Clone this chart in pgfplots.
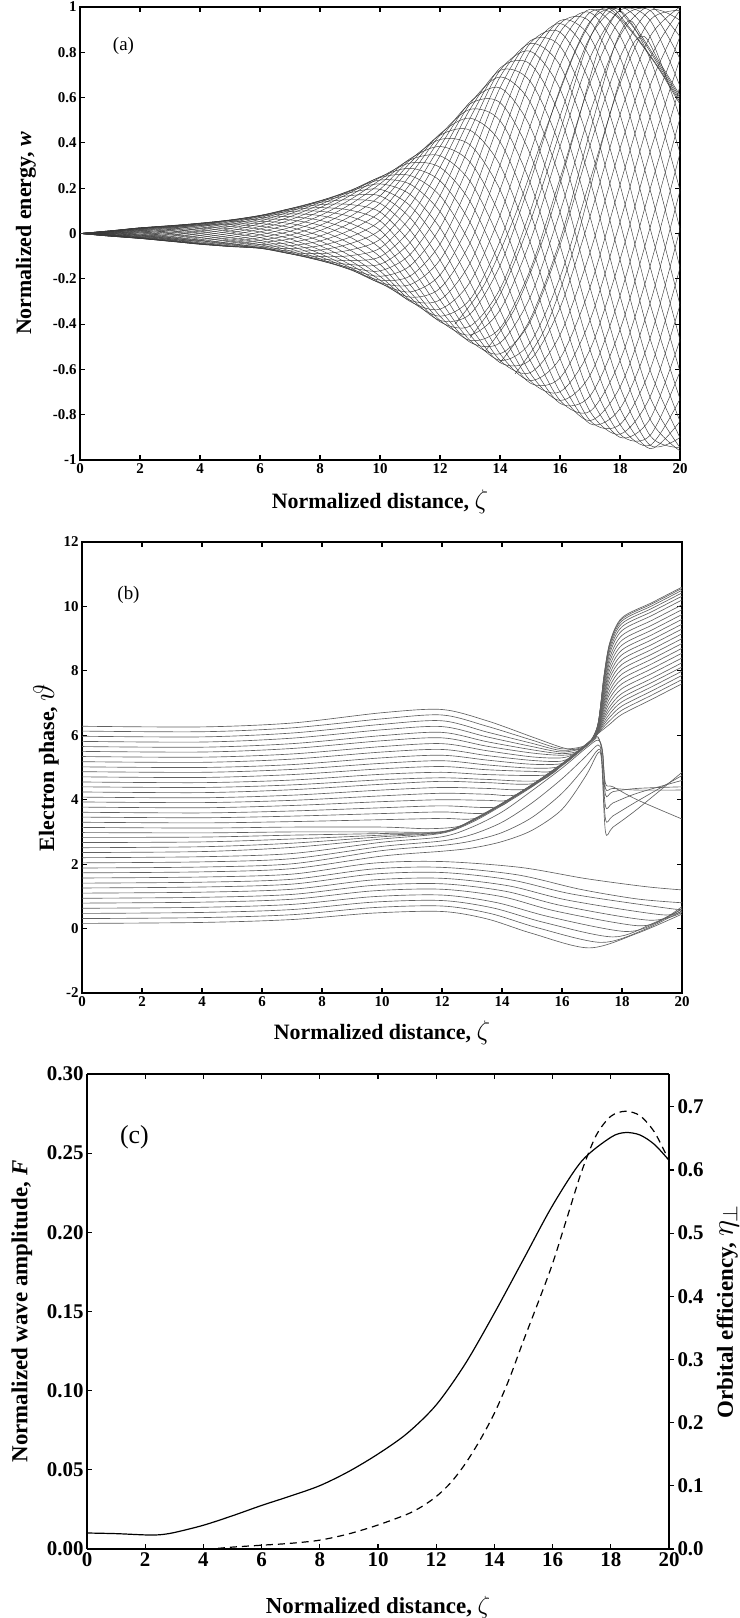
\documentclass[border=0pt]{standalone}
\usepackage{fontspec}
\setmainfont{Liberation Serif}
\usepackage{graphicx}
\usepackage{pgfplots}
\usepackage{pgfplotstable}
\pgfplotsset{compat=1.18}
\newcommand{\tfa}{\fontsize{15}{16}\selectfont\bfseries}
\newcommand{\lfa}{\fontsize{22}{24}\selectfont\bfseries}
\newcommand{\tfc}{\fontsize{21}{22}\selectfont\bfseries}
\newcommand{\lfc}{\fontsize{23}{25}\selectfont\bfseries}
\newcommand{\bigzeta}{\scalebox{1.3}{$\zeta$}}

\pgfplotstableread{
z c0 c1 c2 c3 c4 c5 c6 c7 c8 c9 c10 c11 c12 c13 c14 c15 c16 c17 c18 c19 c20 c21 c22 c23 c24 c25 c26 c27 c28 c29 c30 c31 c32 c33 c34 c35
0 0 0 0 0 0 0 0 0 0 0 0 0 0 0 0 0 0 0 0 0 0 0 0 0 0 0 0 0 0 0 0 0 0 0 0 0
1 0.004 0.006 0.008 0.009 0.010 0.011 0.012 0.012 0.012 0.011 0.010 0.009 0.008 0.006 0.004 0.002 0 -0.002 -0.004 -0.006 -0.008 -0.009 -0.010 -0.011 -0.012 -0.012 -0.012 -0.011 -0.010 -0.009 -0.008 -0.006 -0.004 -0.002 0 0.002
2 0.017 0.020 0.022 0.024 0.025 0.025 0.025 0.024 0.022 0.020 0.017 0.013 0.010 0.006 0.002 -0.003 -0.007 -0.010 -0.014 -0.017 -0.019 -0.021 -0.022 -0.022 -0.022 -0.021 -0.019 -0.017 -0.014 -0.010 -0.007 -0.003 0.002 0.006 0.010 0.013
3 0.030 0.033 0.034 0.035 0.034 0.033 0.030 0.027 0.023 0.018 0.012 0.006 0 -0.006 -0.012 -0.018 -0.023 -0.027 -0.030 -0.033 -0.034 -0.035 -0.034 -0.033 -0.030 -0.027 -0.023 -0.018 -0.012 -0.006 0 0.006 0.012 0.018 0.023 0.027
4 0.045 0.046 0.045 0.043 0.040 0.035 0.029 0.023 0.015 0.007 -0.001 -0.009 -0.017 -0.025 -0.031 -0.037 -0.042 -0.045 -0.047 -0.048 -0.047 -0.045 -0.042 -0.037 -0.031 -0.025 -0.017 -0.009 -0.001 0.007 0.015 0.023 0.029 0.035 0.040 0.043
5 0.059 0.057 0.052 0.046 0.039 0.031 0.021 0.011 0.001 -0.009 -0.019 -0.029 -0.037 -0.044 -0.050 -0.055 -0.057 -0.058 -0.057 -0.055 -0.050 -0.044 -0.037 -0.029 -0.019 -0.009 0.001 0.011 0.021 0.031 0.039 0.046 0.052 0.057 0.059 0.060
6 0.070 0.063 0.054 0.044 0.032 0.020 0.007 -0.006 -0.018 -0.030 -0.040 -0.049 -0.056 -0.062 -0.065 -0.066 -0.065 -0.062 -0.056 -0.049 -0.040 -0.030 -0.018 -0.006 0.007 0.020 0.032 0.044 0.054 0.063 0.070 0.076 0.079 0.080 0.079 0.076
7 0.074 0.060 0.044 0.027 0.010 -0.007 -0.024 -0.040 -0.054 -0.067 -0.077 -0.084 -0.089 -0.090 -0.089 -0.084 -0.077 -0.067 -0.054 -0.040 -0.024 -0.007 0.010 0.027 0.044 0.060 0.074 0.087 0.097 0.104 0.109 0.110 0.109 0.104 0.097 0.087
8 0.058 0.036 0.013 -0.011 -0.033 -0.054 -0.073 -0.089 -0.102 -0.112 -0.118 -0.120 -0.118 -0.112 -0.102 -0.089 -0.073 -0.054 -0.033 -0.011 0.013 0.036 0.058 0.079 0.098 0.114 0.127 0.137 0.143 0.145 0.143 0.137 0.127 0.114 0.098 0.079
9 0.015 -0.016 -0.045 -0.073 -0.098 -0.119 -0.137 -0.150 -0.157 -0.160 -0.157 -0.150 -0.137 -0.119 -0.098 -0.073 -0.045 -0.016 0.015 0.046 0.075 0.103 0.128 0.149 0.167 0.180 0.187 0.190 0.187 0.180 0.167 0.149 0.128 0.103 0.075 0.046
10 -0.065 -0.103 -0.136 -0.165 -0.189 -0.206 -0.217 -0.220 -0.217 -0.206 -0.189 -0.165 -0.136 -0.103 -0.065 -0.026 0.015 0.056 0.095 0.133 0.166 0.195 0.219 0.236 0.247 0.250 0.247 0.236 0.219 0.195 0.166 0.133 0.095 0.056 0.015 -0.026
11 -0.226 -0.258 -0.281 -0.295 -0.300 -0.295 -0.281 -0.258 -0.226 -0.188 -0.143 -0.093 -0.040 0.015 0.070 0.123 0.173 0.218 0.256 0.288 0.311 0.325 0.330 0.325 0.311 0.288 0.256 0.218 0.173 0.123 0.070 0.015 -0.040 -0.093 -0.143 -0.188
12 -0.384 -0.390 -0.384 -0.365 -0.334 -0.293 -0.242 -0.183 -0.117 -0.047 0.025 0.097 0.167 0.233 0.292 0.343 0.384 0.415 0.434 0.440 0.434 0.415 0.384 0.343 0.292 0.233 0.167 0.097 0.025 -0.047 -0.117 -0.183 -0.242 -0.293 -0.334 -0.365
13 -0.448 -0.409 -0.356 -0.291 -0.215 -0.131 -0.042 0.050 0.142 0.231 0.315 0.391 0.456 0.509 0.548 0.572 0.580 0.572 0.548 0.509 0.456 0.391 0.315 0.231 0.142 0.050 -0.042 -0.131 -0.215 -0.291 -0.356 -0.409 -0.448 -0.472 -0.480 -0.472
14 -0.338 -0.245 -0.142 -0.033 0.080 0.193 0.302 0.405 0.498 0.578 0.643 0.691 0.720 0.730 0.720 0.691 0.643 0.578 0.498 0.405 0.302 0.193 0.080 -0.033 -0.142 -0.245 -0.338 -0.418 -0.483 -0.531 -0.560 -0.570 -0.560 -0.531 -0.483 -0.418
15 -0.036 0.095 0.226 0.353 0.473 0.581 0.673 0.749 0.805 0.839 0.850 0.839 0.805 0.749 0.673 0.581 0.473 0.353 0.226 0.095 -0.036 -0.163 -0.283 -0.391 -0.483 -0.559 -0.615 -0.649 -0.660 -0.649 -0.615 -0.559 -0.483 -0.391 -0.283 -0.163
16 0.384 0.518 0.638 0.742 0.827 0.889 0.927 0.940 0.927 0.889 0.827 0.742 0.638 0.518 0.384 0.242 0.095 -0.052 -0.194 -0.328 -0.448 -0.552 -0.637 -0.699 -0.737 -0.750 -0.737 -0.699 -0.637 -0.552 -0.448 -0.328 -0.194 -0.052 0.095 0.242
17 0.776 0.867 0.935 0.976 0.990 0.976 0.935 0.867 0.776 0.663 0.533 0.388 0.234 0.075 -0.084 -0.238 -0.383 -0.513 -0.626 -0.717 -0.785 -0.826 -0.840 -0.826 -0.785 -0.717 -0.626 -0.513 -0.383 -0.238 -0.084 0.075 0.234 0.388 0.533 0.663
18 0.986 1.000 0.986 0.943 0.873 0.778 0.661 0.525 0.375 0.215 0.050 -0.115 -0.275 -0.425 -0.561 -0.678 -0.773 -0.843 -0.886 -0.900 -0.886 -0.843 -0.773 -0.678 -0.561 -0.425 -0.275 -0.115 0.050 0.215 0.375 0.525 0.661 0.778 0.873 0.943
19 0.942 0.869 0.772 0.652 0.513 0.359 0.195 0.025 -0.145 -0.309 -0.463 -0.602 -0.722 -0.819 -0.892 -0.935 -0.950 -0.935 -0.892 -0.819 -0.722 -0.602 -0.463 -0.309 -0.145 0.025 0.195 0.359 0.513 0.652 0.772 0.869 0.942 0.985 1.000 0.985
20 0.650 0.510 0.355 0.191 0.020 -0.151 -0.315 -0.470 -0.610 -0.731 -0.829 -0.901 -0.945 -0.960 -0.945 -0.901 -0.829 -0.731 -0.610 -0.470 -0.315 -0.151 0.020 0.191 0.355 0.510 0.650 0.771 0.869 0.941 0.985 1.000 0.985 0.941 0.869 0.771
}\wdata

\pgfplotsset{
  panel/.style={
    scale only axis, xmin=0, xmax=20,
    xtick={0,2,4,6,8,10,12,14,16,18,20},
    xticklabels={0,2,4,6,8,10,12,14,16,18,20},
    tick align=inside, major tick length=5bp,
    axis line style={line width=1.5bp},
    every tick/.style={black, line width=1.1bp},
  },
  al/.style={black!78, line width=0.45bp, smooth},
  bl/.style={black!62, line width=0.65bp, smooth, tension=0.5},
}

\begin{document}
\begin{tikzpicture}
\path[use as bounding box] (0,0) rectangle (740bp,1618bp);

% ---------------- (a)
\begin{axis}[panel, at={(80bp,1158bp)}, anchor=south west,
  width=600bp, height=453bp, ymin=-1, ymax=1,
  ytick={-1,-0.8,-0.6,-0.4,-0.2,0,0.2,0.4,0.6,0.8,1},
  yticklabels={-1,-0.8,-0.6,-0.4,-0.2,0,0.2,0.4,0.6,0.8,1},
  tick label style={font=\tfa},
  xlabel={Normalized distance, \bigzeta},
  ylabel={Normalized energy, \textit{w}},
  label style={font=\lfa},
  xlabel style={at={(axis description cs:0.5,-0.093)}, anchor=center},
  ylabel style={at={(axis description cs:-0.09,0.5)}, anchor=center},
]
\pgfplotsinvokeforeach{0,...,35}{
  \addplot[al] table[x=z, y=c#1] {\wdata};
}
% electrons crowding near w = 1 (dark band at the upper right)
\addplot[al] coordinates {(12.5,-0.40) (13.5,-0.22) (14.5,0.08) (15.5,0.45) (16.5,0.80) (17.2,0.97) (17.6,0.995) (18,0.95) (18.6,0.855) (19.3,0.725) (20,0.57)};
\addplot[al] coordinates {(13,-0.46) (14,-0.27) (15,0.05) (16,0.45) (16.9,0.83) (17.5,0.98) (17.8,0.99) (18.1,0.945) (18.6,0.86) (19.3,0.73) (20,0.58)};
\addplot[al] coordinates {(13.5,-0.52) (14.5,-0.33) (15.5,0.0) (16.5,0.45) (17.3,0.82) (17.9,0.975) (18.2,0.95) (18.7,0.865) (19.3,0.74) (20,0.59)};
\addplot[al] coordinates {(14,-0.57) (15,-0.38) (16,-0.03) (17,0.45) (17.8,0.82) (18.3,0.94) (18.7,0.875) (19.3,0.75) (20,0.60)};
\addplot[al] coordinates {(14.5,-0.62) (15.5,-0.42) (16.5,-0.05) (17.5,0.45) (18.3,0.80) (18.8,0.87) (19.3,0.76) (20,0.61)};
\node[font=\fontsize{19}{20}\selectfont] at (axis description cs:0.0725,0.914) {(a)};
\end{axis}

% ---------------- (b)
\begin{axis}[panel, at={(82bp,625bp)}, anchor=south west,
  width=600bp, height=451bp, ymin=-2, ymax=12,
  ytick={-2,0,2,4,6,8,10,12},
  yticklabels={-2,0,2,4,6,8,10,12},
  tick label style={font=\tfa},
  xlabel={Normalized distance, \bigzeta},
  ylabel={Electron phase, \scalebox{1.45}{$\vartheta$}},
  label style={font=\lfa},
  xlabel style={at={(axis description cs:0.5,-0.089)}, anchor=center},
  ylabel style={at={(axis description cs:-0.06,0.5)}, anchor=center},
]
% lower group
\addplot[bl] coordinates {(0,0.16) (4,0.19) (7,0.28) (9.7,0.48) (12,0.53) (13.5,0.30) (15,-0.15) (16.9,-0.60) (18.5,-0.15) (20,0.45)};
\addplot[bl] coordinates {(0,0.31) (4,0.34) (7,0.43) (9.7,0.65) (12,0.70) (13.6,0.47) (15.2,0.02) (17.3,-0.43) (18.7,-0.05) (20,0.55)};
\addplot[bl] coordinates {(0,0.47) (4,0.50) (7,0.59) (9.7,0.82) (12,0.87) (13.7,0.64) (15.4,0.19) (17.7,-0.26) (19,0.15) (20,0.60)};
\addplot[bl] coordinates {(0,0.63) (4,0.66) (7,0.75) (9.7,0.99) (12,1.04) (13.8,0.81) (15.6,0.36) (18.1,-0.09) (19.2,0.20) (20,0.68)};
\addplot[bl] coordinates {(0,0.79) (4,0.82) (7,0.91) (9.7,1.17) (12,1.22) (14,0.99) (15.8,0.54) (18.5,0.09) (19.4,0.30) (20,0.62)};
\addplot[bl] coordinates {(0,0.94) (4,0.97) (7,1.06) (9.7,1.34) (12,1.39) (14.1,1.16) (16,0.71) (18.9,0.26) (20,0.50)};
\addplot[bl] coordinates {(0,1.10) (4,1.13) (7,1.22) (9.7,1.51) (12,1.56) (14.2,1.33) (16.2,0.88) (19.3,0.43) (20,0.55)};
\addplot[bl] coordinates {(0,1.26) (4,1.29) (7,1.38) (9.7,1.69) (12,1.74) (14.3,1.51) (16.4,1.06) (19.7,0.61) (20,0.64)};
\addplot[bl] coordinates {(0,1.41) (4,1.44) (7,1.53) (9.7,1.85) (12,1.90) (14.5,1.67) (16.6,1.22) (18.5,0.92) (20,0.80)};
\addplot[bl] coordinates {(0,1.57) (4,1.60) (7,1.69) (9.7,2.03) (12,2.08) (14.6,1.90) (16.8,1.55) (18.8,1.30) (20,1.20)};
% lines reaching the bunch from below, then the hook
\addplot[bl] coordinates {(0,1.73) (4,1.76) (7,1.86) (10,2.25) (12,2.40) (13,2.50) (14,2.70) (15,3.05) (16,3.70) (16.8,4.75) (17.2,5.45) (17.32,5.2) (17.45,3.0) (17.7,3.15) (18.5,3.7) (20,4.85)};
\addplot[bl] coordinates {(0,1.88) (4,1.91) (7,2.01) (10,2.42) (12,2.58) (13,2.72) (14,2.98) (15,3.45) (16,4.20) (16.8,5.05) (17.2,5.55) (17.32,5.3) (17.45,3.4) (17.7,3.5) (18.5,3.95) (20,4.75)};
\addplot[bl] coordinates {(0,2.04) (4,2.07) (7,2.17) (10,2.55) (12,2.72) (13,2.92) (14,3.30) (15,3.90) (16,4.65) (16.8,5.35) (17.2,5.70) (17.32,5.4) (17.45,3.8) (17.7,3.9) (18.5,4.2) (20,4.6)};
\addplot[bl] coordinates {(0,2.20) (4,2.23) (7,2.33) (10,2.68) (12,2.85) (13,3.15) (14,3.62) (15,4.28) (16,4.98) (16.8,5.60) (17.2,5.85) (17.35,5.5) (17.45,4.15) (17.7,4.25) (18.5,4.35) (20,4.4)};
\addplot[bl] coordinates {(0,2.36) (4,2.39) (7,2.52) (10,2.78) (12,2.96) (13,3.30) (14,3.82) (15,4.40) (16,5.05) (17,5.80) (17.2,5.92) (17.35,5.5) (17.45,4.35) (17.7,4.35) (18.5,4.3) (20,4.3)};
\addplot[bl] coordinates {(0,2.51) (4,2.54) (7,2.65) (10,2.85) (12,2.98) (13,3.33) (14,3.85) (15,4.43) (16,5.08) (17,5.84) (17.2,5.95) (17.35,5.45) (17.45,4.5) (17.7,4.4) (18.5,4.0) (20,3.4)};
% bunch, upper fan after the split
\addplot[bl] coordinates {(0,2.67) (4,2.69) (7,2.78) (10,2.90) (12,2.99) (13,3.34) (14,3.86) (15,4.44) (16,5.09) (17,5.85) (17.2,6.05) (17.4,6.2) (17.6,6.35) (18,6.65) (19,7.12) (20,7.6)};
\addplot[bl] coordinates {(0,2.83) (4,2.84) (7,2.90) (10,2.95) (12,3.00) (13,3.35) (14,3.87) (15,4.45) (16,5.10) (17,5.86) (17.2,6.06) (17.4,6.27) (17.6,6.46) (18,6.78) (19,7.25) (20,7.73)};
\addplot[bl] coordinates {(0,2.98) (4,2.97) (7,3.00) (10,3.00) (12,3.01) (13,3.36) (14,3.88) (15,4.46) (16,5.11) (17,5.87) (17.2,6.08) (17.4,6.34) (17.6,6.57) (18,6.91) (19,7.38) (20,7.86)};
\addplot[bl] coordinates {(0,3.14) (4,3.12) (7,3.15) (10,3.15) (11.5,3.10) (12.5,3.16) (13,3.37) (14,3.89) (15,4.47) (16,5.12) (17,5.88) (17.2,6.09) (17.4,6.41) (17.6,6.68) (18,7.04) (19,7.51) (20,7.99)};
\addplot[bl] coordinates {(0,3.30) (4,3.28) (7,3.32) (10,3.38) (12,3.42) (13.1,3.42) (14,3.88) (15,4.46) (16,5.11) (17,5.87) (17.2,6.10) (17.4,6.49) (17.6,6.79) (18,7.17) (19,7.64) (20,8.12)};
\addplot[bl] coordinates {(0,3.46) (4,3.44) (7,3.49) (10,3.57) (12,3.62) (13.4,3.58) (14,3.88) (15,4.46) (16,5.11) (17,5.86) (17.2,6.12) (17.4,6.56) (17.6,6.90) (18,7.30) (19,7.77) (20,8.25)};
\addplot[bl] coordinates {(0,3.61) (4,3.59) (7,3.65) (10,3.75) (12,3.81) (13.8,3.77) (14.5,4.16) (15.5,4.77) (16.5,5.45) (17,5.86) (17.2,6.13) (17.4,6.64) (17.6,7.03) (18,7.45) (19,7.92) (20,8.4)};
\addplot[bl] coordinates {(0,3.77) (4,3.75) (7,3.82) (10,3.94) (12,4.00) (13.5,3.98) (14.2,3.99) (15,4.45) (16,5.10) (17,5.85) (17.2,6.15) (17.4,6.72) (17.6,7.16) (18,7.60) (19,8.07) (20,8.55)};
\addplot[bl] coordinates {(0,3.93) (4,3.91) (7,3.98) (10,4.12) (12,4.20) (13.5,4.17) (14.5,4.16) (15.5,4.77) (16.5,5.45) (17,5.85) (17.2,6.16) (17.4,6.81) (17.6,7.29) (18,7.75) (19,8.22) (20,8.7)};
\addplot[bl] coordinates {(0,4.08) (4,4.06) (7,4.14) (10,4.30) (12,4.38) (13.5,4.35) (14.8,4.33) (15.5,4.78) (16.5,5.46) (17,5.86) (17.2,6.18) (17.4,6.89) (17.6,7.41) (18,7.90) (19,8.37) (20,8.85)};
\addplot[bl] coordinates {(0,4.24) (4,4.22) (7,4.31) (10,4.48) (12,4.57) (13.5,4.53) (15.1,4.51) (16,5.1) (16.5,5.46) (17,5.86) (17.2,6.19) (17.4,6.97) (17.6,7.54) (18,8.05) (19,8.52) (20,9.0)};
\addplot[bl] coordinates {(0,4.40) (4,4.38) (7,4.46) (10,4.62) (12,4.68) (13.5,4.63) (15.25,4.6) (16,5.1) (16.5,5.46) (17,5.86) (17.2,6.21) (17.4,7.05) (17.6,7.67) (18,8.20) (19,8.67) (20,9.15)};
\addplot[bl] coordinates {(0,4.55) (4,4.53) (7,4.61) (10,4.79) (12,4.85) (13.5,4.78) (15.5,4.77) (16,5.1) (16.5,5.46) (17,5.86) (17.2,6.22) (17.4,7.14) (17.6,7.80) (18,8.35) (19,8.82) (20,9.3)};
\addplot[bl] coordinates {(0,4.71) (4,4.69) (7,4.78) (10,4.96) (12,5.03) (13.5,4.93) (15,4.88) (15.7,4.9) (16.5,5.46) (17,5.86) (17.2,6.24) (17.4,7.22) (17.6,7.92) (18,8.50) (19,8.97) (20,9.45)};
\addplot[bl] coordinates {(0,4.87) (4,4.85) (7,4.94) (10,5.13) (12,5.21) (13.5,5.08) (15,4.98) (15.9,5.03) (16.5,5.46) (17,5.87) (17.2,6.25) (17.4,7.3) (17.6,8.05) (18,8.65) (19,9.12) (20,9.6)};
\addplot[bl] coordinates {(0,5.02) (4,5.00) (7,5.09) (10,5.30) (12,5.38) (13.5,5.23) (15,5.10) (16.05,5.13) (16.5,5.46) (17,5.87) (17.2,6.27) (17.4,7.38) (17.6,8.18) (18,8.80) (19,9.27) (20,9.75)};
\addplot[bl] coordinates {(0,5.18) (4,5.16) (7,5.26) (10,5.48) (12,5.56) (13.5,5.37) (15,5.22) (16,5.20) (16.5,5.47) (17,5.87) (17.2,6.28) (17.4,7.47) (17.6,8.31) (18,8.95) (19,9.42) (20,9.9)};
\addplot[bl] coordinates {(0,5.34) (4,5.32) (7,5.42) (10,5.65) (12,5.74) (13.5,5.52) (15,5.33) (16,5.30) (16.5,5.47) (17,5.87) (17.2,6.30) (17.4,7.55) (17.6,8.43) (18,9.10) (19,9.57) (20,10.05)};
\addplot[bl] coordinates {(0,5.50) (4,5.48) (7,5.59) (10,5.83) (12,5.92) (13.5,5.66) (15,5.45) (16,5.38) (16.5,5.47) (17,5.88) (17.2,6.31) (17.4,7.63) (17.6,8.56) (18,9.25) (19,9.72) (20,10.2)};
\addplot[bl] coordinates {(0,5.65) (4,5.63) (7,5.74) (10,5.99) (12,6.09) (13.5,5.80) (15,5.55) (16,5.43) (16.6,5.53) (17,5.88) (17.2,6.32) (17.4,7.70) (17.6,8.66) (18,9.37) (19,9.84) (20,10.32)};
\addplot[bl] coordinates {(0,5.81) (4,5.79) (7,5.91) (10,6.17) (12,6.27) (13.5,5.95) (15,5.65) (16,5.48) (16.7,5.61) (17,5.88) (17.2,6.33) (17.4,7.75) (17.6,8.75) (18,9.47) (19,9.94) (20,10.42)};
\addplot[bl] coordinates {(0,5.97) (4,5.95) (7,6.07) (10,6.34) (12,6.45) (13.5,6.10) (15,5.75) (16,5.53) (16.8,5.69) (17.2,6.34) (17.4,7.8) (17.6,8.82) (18,9.55) (19,10.02) (20,10.5)};
\addplot[bl] coordinates {(0,6.13) (4,6.11) (7,6.23) (10,6.51) (12,6.63) (13.5,6.28) (15,5.85) (16,5.58) (16.85,5.72) (17.2,6.35) (17.4,7.83) (17.6,8.87) (18,9.61) (19,10.08) (20,10.56)};
\addplot[bl] coordinates {(0,6.28) (4,6.26) (7,6.38) (10,6.70) (12,6.80) (13.5,6.45) (15,5.95) (16,5.62) (16.5,5.55) (16.9,5.75) (17.2,6.35) (17.4,7.85) (17.6,8.9) (18,9.65) (19,10.12) (20,10.6)};
\node[font=\fontsize{19}{20}\selectfont] at (axis description cs:0.0775,0.882) {(b)};
\end{axis}

% ---------------- (c) left axis
\begin{axis}[panel, at={(87bp,69bp)}, anchor=south west,
  width=582bp, height=475bp, ymin=0, ymax=0.30,
  axis y line*=left,
  ytick={0,0.05,0.10,0.15,0.20,0.25,0.30},
  yticklabels={0.00,0.05,0.10,0.15,0.20,0.25,0.30},
  tick label style={font=\tfc},
  xlabel={Normalized distance, $\zeta$},
  ylabel={Normalized wave amplitude, \textit{F}},
  label style={font=\lfc},
  xlabel style={at={(axis description cs:0.5,-0.122)}, anchor=center},
  ylabel style={at={(axis description cs:-0.112,0.5)}, anchor=center},
]
\addplot[black, line width=1.2bp, smooth] coordinates {
 (0,0.0101) (1,0.0097) (2,0.0089) (2.5,0.0090) (3,0.0104) (4,0.0150) (5,0.0210) (6,0.0275) (7,0.0335) (8,0.0400) (9,0.0490) (10,0.0600) (11,0.0730) (12,0.0910) (13,0.1170) (14,0.1490) (15,0.1830) (16,0.2170) (17,0.2450) (18,0.2600) (18.5,0.2630) (19,0.2615) (19.5,0.2555) (20,0.2455)};
\node[font=\fontsize{26}{28}\selectfont] at (axis description cs:0.0816,0.867) {(c)};
\end{axis}

% ---------------- (c) right axis
\begin{axis}[scale only axis, at={(87bp,69bp)}, anchor=south west,
  width=582bp, height=475bp, xmin=0, xmax=20, ymin=0, ymax=0.752,
  axis x line=none, axis y line*=right,
  axis line style={line width=1.5bp},
  every tick/.style={black, line width=1.1bp},
  tick align=outside, major tick length=5bp,
  ytick={0,0.1,0.2,0.3,0.4,0.5,0.6,0.7},
  yticklabels={0.0,0.1,0.2,0.3,0.4,0.5,0.6,0.7},
  tick label style={font=\tfc},
  ylabel={Orbital efficiency, \scalebox{1.25}{$\eta_\perp$}},
  label style={font=\lfc},
  ylabel style={at={(axis description cs:1.101,0.5)}, anchor=center},
]
\addplot[black, line width=1.2bp, dash pattern=on 7bp off 5bp, smooth] coordinates {
 (4.5,0.001) (5,0.003) (6,0.006) (7,0.009) (8,0.014) (9,0.024) (10,0.038) (11,0.055) (11.5,0.067) (12,0.083) (12.5,0.105) (13,0.135) (13.5,0.172) (14,0.215) (14.5,0.268) (15,0.330) (15.5,0.390) (16,0.452) (16.5,0.525) (17,0.598) (17.5,0.655) (18,0.685) (18.5,0.693) (19,0.686) (19.5,0.660) (20,0.615)};
\end{axis}
\end{tikzpicture}
\end{document}
